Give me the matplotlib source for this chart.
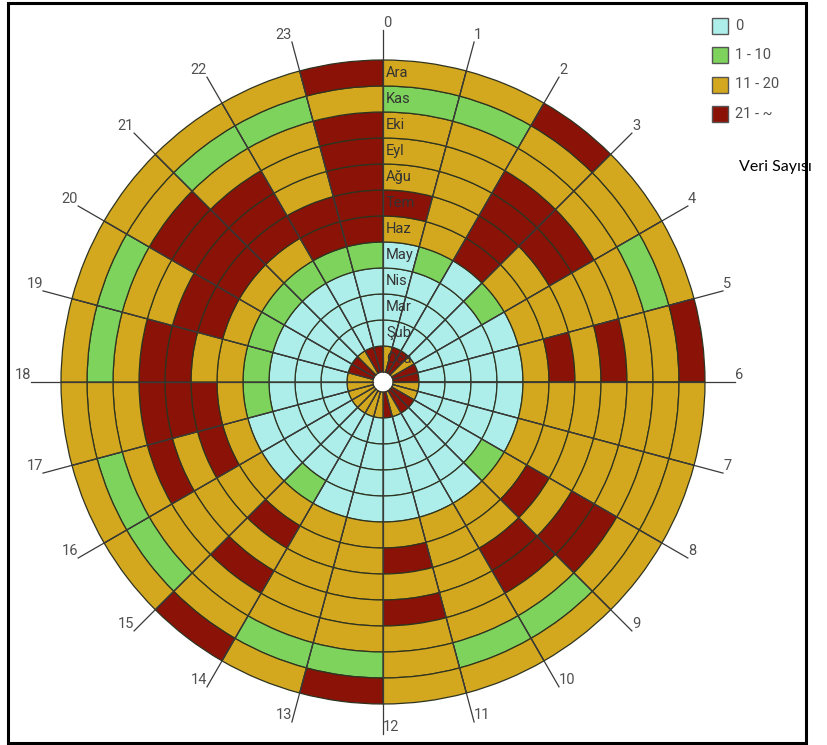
import numpy as np
import matplotlib
matplotlib.use("Agg")
import matplotlib.pyplot as plt
from matplotlib.patches import Rectangle
from matplotlib.transforms import ScaledTranslation

# ---------------- data ----------------
hours = list(range(24))
months = ['Oca', 'Şub', 'Mar', 'Nis', 'May', 'Haz', 'Tem', 'Ağu', 'Eyl', 'Eki', 'Kas', 'Ara']
categories = ['0', '1 - 10', '11 - 20', '21 - ~']
cat_colors = ['#aeeeea', '#7ed35c', '#d4a81e', '#8a1206']
legend_title = 'Veri Sayısı'

# category index per hour (0..23) for each month (0: 0, 1: 1-10, 2: 11-20, 3: 21-~)
oca = [2, 3, 3, 2, 3, 3, 2, 2, 3, 3, 2, 3, 2, 2, 2, 2, 2, 2, 2, 3, 3, 2, 3, 3]
sub = [0] * 24
mar = [0] * 24
nis = [0] * 24
may = [0, 1, 0, 1, 0, 0, 0, 0, 1, 0, 0, 0, 0, 0, 1, 0, 0, 1, 1, 1, 1, 1, 1, 1]
haz = [2, 2, 3, 2, 2, 2, 2, 2, 2, 2, 2, 2, 2, 2, 2, 2, 2, 2, 2, 2, 2, 2, 3, 3]
tem = [3, 2, 3, 2, 2, 3, 2, 2, 3, 2, 2, 3, 2, 2, 3, 2, 3, 3, 2, 3, 3, 3, 3, 3]
agu = [2, 2, 3, 3, 2, 2, 2, 2, 2, 3, 2, 2, 2, 2, 2, 2, 2, 3, 3, 3, 3, 3, 2, 3]
eyl = [2, 2, 3, 3, 2, 3, 2, 2, 3, 3, 2, 3, 2, 2, 3, 2, 3, 3, 3, 2, 3, 3, 2, 3]
eki = [2, 2, 2, 2, 2, 2, 2, 2, 3, 2, 2, 2, 2, 2, 2, 2, 2, 2, 2, 2, 3, 2, 2, 3]
kas = [1, 1, 2, 2, 1, 2, 2, 2, 2, 1, 1, 2, 1, 1, 2, 1, 1, 2, 1, 1, 2, 1, 1, 2]
ara = [2, 2, 3, 2, 2, 3, 2, 2, 2, 2, 2, 2, 3, 2, 3, 2, 2, 2, 2, 2, 2, 2, 2, 3]
grid = [oca, sub, mar, nis, may, haz, tem, agu, eyl, eki, kas, ara]

# ---------------- layout ----------------
W, H, DPI = 827, 745, 100
PX = 26.0            # pixels per ring
HOLE = 10 / PX       # inner white hole
R_AX = 360           # axes radius in px
CX, CY = 383, 382    # centre in px (from top-left)
R_END = 352 / PX     # spoke end

fig = plt.figure(figsize=(W / DPI, H / DPI), dpi=DPI)
fig.patch.set_facecolor('white')
ax = fig.add_axes([(CX - R_AX) / W, (H - CY - R_AX) / H, 2 * R_AX / W, 2 * R_AX / H],
                  projection='polar')
ax.set_theta_zero_location('N')
ax.set_theta_direction(-1)
ax.set_ylim(0, R_AX / PX)
ax.axis('off')

width = 2 * np.pi / len(hours)
thetas = (np.array(hours) + 0.5) * width
for m, row in enumerate(grid):
    ax.bar(thetas, np.ones(len(hours)), width=width, bottom=HOLE + m,
           color=[cat_colors[c] for c in row], edgecolor='#2e3320',
           linewidth=0.9, align='center', zorder=2)

label_font = ['Roboto', 'DejaVu Sans']
for h in hours:
    th = h * width
    ax.plot([th, th], [HOLE, R_END], color='#3a3a3a', lw=0.9, zorder=3)
    s = np.sin(th)
    ha = 'left' if s > -1e-6 else 'right'
    ax.text(th, R_END, str(h), ha=ha, va='bottom', fontsize=10.5,
            color='#505050', family=label_font, zorder=4)

off = ScaledTranslation(3 / DPI, 0, fig.dpi_scale_trans)
for m, name in enumerate(months):
    ax.text(0, HOLE + m + 0.5, name, ha='left', va='center', fontsize=10.5,
            color='#333333', family=label_font, zorder=5,
            transform=ax.transData + off)

# legend (colour keys)
for i, (c, lab) in enumerate(zip(cat_colors, categories)):
    yc = 25.5 + 29.5 * i
    fig.add_artist(Rectangle((712 / W, 1 - (yc + 8) / H), 16 / W, 16 / H,
                             transform=fig.transFigure, facecolor=c,
                             edgecolor='#555555', linewidth=1.0))
    fig.text(735 / W, 1 - yc / H, lab, ha='left', va='center', fontsize=10.5,
             color='#505050', family=label_font)

fig.text(739 / W, 1 - 167 / H, legend_title, ha='left', va='center',
         fontsize=11.5, family=['Lato', 'DejaVu Sans'], color='black')

fig.add_artist(Rectangle((8 / W, 2 / H), (806 - 8) / W, (743 - 3) / H,
                         transform=fig.transFigure, fill=False,
                         edgecolor='black', linewidth=2.2, zorder=20))

fig.savefig('out.png', dpi=DPI)
